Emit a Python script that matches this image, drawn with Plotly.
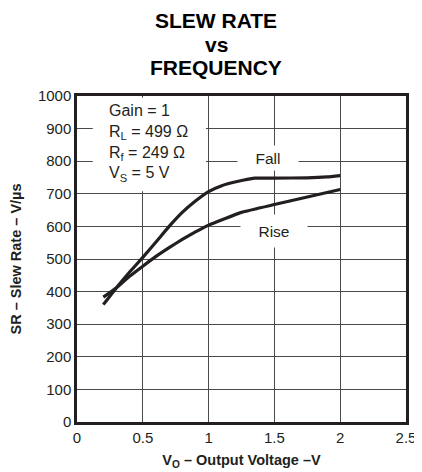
import plotly.graph_objects as go

# Data
fall_x = [0.2, 0.3, 0.4, 0.5, 0.6, 0.7, 0.8, 0.9, 1.0, 1.1, 1.2, 1.35, 1.5, 1.75, 1.9, 2.0]
fall_y = [360, 412, 460, 505, 552, 600, 643, 678, 707, 725, 736, 748, 748, 749, 752, 756]
rise_x = [0.2, 0.3, 0.4, 0.5, 0.6, 0.7, 0.8, 0.9, 1.0, 1.25, 1.5, 1.75, 2.0]
rise_y = [383, 412, 447, 478, 508, 535, 560, 583, 604, 643, 667, 690, 713]

x_ticks = [0, 0.5, 1, 1.5, 2, 2.5]
x_tick_labels = ["0", "0.5", "1", "1.5", "2", "2.5"]
y_ticks = [0, 100, 200, 300, 400, 500, 600, 700, 800, 900, 1000]

title_lines = ["SLEW RATE", "vs", "FREQUENCY"]
conditions = "Gain = 1<br>R<sub>L</sub> = 499 Ω<br>R<sub>f</sub> = 249 Ω<br>V<sub>S</sub> = 5 V"

FONT = "Liberation Sans, Arial, sans-serif"
INK = "#231f20"

# page has an 8px body margin; figure sized to fill the rest of the window
OFF = 8
W, H = 422 - OFF, 472 - OFF
ML, MR, MT, MB = 77 - OFF, 16, 96 - OFF, 50
PW, PH = W - ML - MR, H - MT - MB

fig = go.Figure()
for xs, ys in [(fall_x, fall_y), (rise_x, rise_y)]:
    fig.add_trace(go.Scatter(x=xs, y=ys, mode="lines",
                             line=dict(color=INK, width=3.2, shape="spline", smoothing=0.4),
                             showlegend=False, hoverinfo="skip"))

# white box behind the conditions text (covers gridlines)
fig.add_shape(type="rect", xref="x", yref="y", x0=0.12, x1=0.98, y0=708, y1=995,
              fillcolor="white", line=dict(width=0), layer="between")

fig.add_annotation(x=0.23, y=855, xref="x", yref="y", text=conditions, showarrow=False,
                   xanchor="left", yanchor="middle", align="left",
                   font=dict(family=FONT, size=16, color=INK))
fig.add_annotation(x=1.45, y=810, xref="x", yref="y", text="Fall", showarrow=False,
                   width=60, height=24, bgcolor="white", borderpad=0,
                   font=dict(family=FONT, size=15.5, color=INK))
fig.add_annotation(x=1.5, y=586, xref="x", yref="y", text="Rise", showarrow=False,
                   width=66, height=32, bgcolor="white", borderpad=0,
                   font=dict(family=FONT, size=15.5, color=INK))

# Title lines (page-pixel centres converted to paper coordinates)
title_y_px = [20, 44, 67]
for line, ypx in zip(title_lines, title_y_px):
    fig.add_annotation(x=(216 - OFF - ML) / PW, y=(H - MB - (ypx - OFF)) / PH,
                       xref="paper", yref="paper",
                       text=f"<b>{line}</b>", showarrow=False,
                       xanchor="center", yanchor="middle",
                       font=dict(family=FONT, size=21, color="black"))

fig.update_layout(
    width=W, height=H,
    margin=dict(l=ML, r=MR, t=MT, b=MB),
    paper_bgcolor="white", plot_bgcolor="white",
    font=dict(family=FONT, size=15, color=INK),
)

fig.update_xaxes(range=[0, 2.5], tickvals=x_ticks, ticktext=x_tick_labels,
                 showgrid=True, gridcolor="#4a4a4a", gridwidth=1.2,
                 showline=True, linecolor=INK, linewidth=2.5, mirror=True,
                 zeroline=False, ticks="", tickfont=dict(size=15), automargin=False,
                 title=dict(text="<b>V<sub>O</sub> – Output Voltage –V</b>",
                            font=dict(size=14.5), standoff=11))
fig.update_yaxes(range=[0, 1000], tickvals=y_ticks,
                 showgrid=True, gridcolor="#4a4a4a", gridwidth=1.2,
                 showline=True, linecolor=INK, linewidth=2.5, mirror=True,
                 zeroline=False, ticks="", tickfont=dict(size=15), automargin=False,
                 title=dict(text="<b>SR – Slew Rate – V/µs</b>",
                            font=dict(size=14.5), standoff=13))

fig.write_html("out.html")
